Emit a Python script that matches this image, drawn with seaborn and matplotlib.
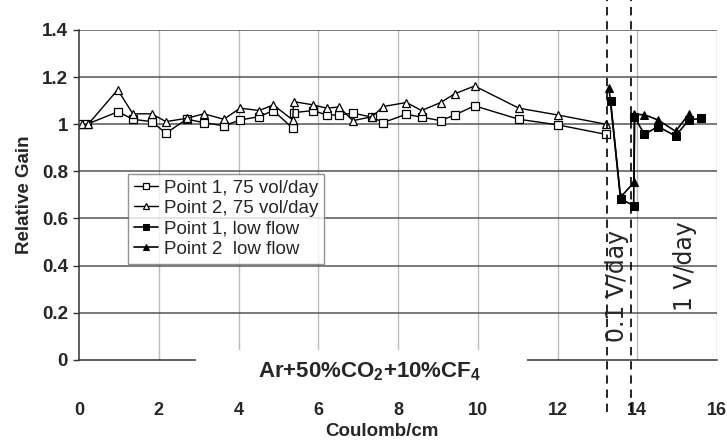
import seaborn as sns
from matplotlib import pyplot as plt
from matplotlib.patches import Rectangle

# Point 1 / Point 2 at 75 vol/day (open markers)
p1_flow_x = [0.0, 0.2, 0.98, 1.35, 1.82, 2.18, 2.70, 3.13, 3.63, 4.04, 4.52, 4.87, 5.36, 5.38,
             5.87, 6.21, 6.52, 6.87, 7.35, 7.63, 8.20, 8.59, 9.07, 9.42, 9.92, 11.03, 12.01, 13.21]
p1_flow_y = [1.0, 1.0, 1.053, 1.021, 1.011, 0.962, 1.021, 1.007, 0.993, 1.018, 1.032, 1.058, 0.983, 1.049,
             1.058, 1.039, 1.039, 1.047, 1.030, 1.007, 1.042, 1.030, 1.015, 1.039, 1.078, 1.021, 0.997, 0.957]
p2_flow_x = [0.07, 0.23, 0.97, 1.35, 1.82, 2.18, 2.70, 3.13, 3.63, 4.04, 4.52, 4.87, 5.36, 5.38,
             5.87, 6.21, 6.52, 6.87, 7.35, 7.63, 8.21, 8.59, 9.07, 9.42, 9.92, 11.03, 12.01, 13.21]
p2_flow_y = [1.0, 1.0, 1.146, 1.044, 1.044, 1.011, 1.025, 1.044, 1.021, 1.068, 1.058, 1.082, 1.018, 1.096,
             1.082, 1.068, 1.073, 1.015, 1.032, 1.075, 1.092, 1.058, 1.092, 1.129, 1.162, 1.068, 1.039, 1.0]

# low flow (filled markers)
p1_low_x = [13.33, 13.58, 13.91, 13.93, 14.18, 14.52, 14.96, 15.29, 15.60]
p1_low_y = [1.099, 0.683, 0.655, 1.03, 0.957, 0.99, 0.95, 1.018, 1.025]
p2_low_x = [13.29, 13.58, 13.92, 13.93, 14.18, 14.52, 14.96, 15.29]
p2_low_y = [1.155, 0.69, 0.754, 1.042, 1.04, 1.018, 0.97, 1.042]

labels = ["Point 1, 75 vol/day", "Point 2, 75 vol/day", "Point 1, low flow", "Point 2  low flow"]
x_ticks = [0, 2, 4, 6, 8, 10, 12, 14, 16]
y_ticks = [0, 0.2, 0.4, 0.6, 0.8, 1.0, 1.2, 1.4]
y_tick_labels = ["0", "0.2", "0.4", "0.6", "0.8", "1", "1.2", "1.4"]
flow_change_x = [13.24, 13.83]

sns.set_theme(style="white")
plt.rcParams['font.family'] = ['Liberation Sans', 'DejaVu Sans']
plt.rcParams['mathtext.fontset'] = 'custom'
plt.rcParams['mathtext.bf'] = 'Liberation Sans:bold'

fig = plt.figure(figsize=(7.27, 4.40), dpi=100)
ax = fig.add_axes([0.1087, 0.182, 0.8776, 0.75])

ms = 5.8
sns.lineplot(x=p1_flow_x, y=p1_flow_y, ax=ax, sort=False, estimator=None, color="black", lw=1,
             marker="s", markersize=ms, markerfacecolor="white", markeredgecolor="black",
             markeredgewidth=0.9, label=labels[0])
sns.lineplot(x=p2_flow_x, y=p2_flow_y, ax=ax, sort=False, estimator=None, color="black", lw=1,
             marker="^", markersize=ms, markerfacecolor="white", markeredgecolor="black",
             markeredgewidth=0.9, label=labels[1])
sns.lineplot(x=p1_low_x, y=p1_low_y, ax=ax, sort=False, estimator=None, color="black", lw=1.2,
             marker="s", markersize=ms, markerfacecolor="black", markeredgecolor="black",
             label=labels[2])
sns.lineplot(x=p2_low_x, y=p2_low_y, ax=ax, sort=False, estimator=None, color="black", lw=1.2,
             marker="^", markersize=ms, markerfacecolor="black", markeredgecolor="black",
             label=labels[3])

ax.set_xlim(0, 16)
ax.set_ylim(0, 1.4)
ax.set_xticks(x_ticks)
ax.set_yticks(y_ticks)
ax.set_yticklabels(y_tick_labels)

# grid: dark horizontal, light vertical
for yv in y_ticks[1:]:
    ax.axhline(yv, color="#555555", lw=1.1, zorder=0.5)
for xv in x_ticks[1:]:
    ax.axvline(xv, color="#bbbbbb", lw=1, zorder=0.4)

for s in ["left", "bottom"]:
    ax.spines[s].set_color("#333333")
    ax.spines[s].set_linewidth(1.1)
ax.spines["top"].set_visible(False)
ax.spines["right"].set_visible(False)

ax.tick_params(axis="x", direction="inout", length=8, width=1, color="#333333", pad=26,
               labelsize=13)
ax.tick_params(axis="y", direction="out", length=4, width=1, color="#333333", pad=4,
               labelsize=13.5, left=True)
for t in ax.get_xticklabels() + ax.get_yticklabels():
    t.set_fontweight("bold")

ax.set_xlabel("Coulomb/cm", fontsize=13.5, fontweight="bold", labelpad=3)
ax.xaxis.label.set_x(0.475)
ax.set_ylabel("Relative Gain", fontsize=13.5, fontweight="bold", labelpad=6)

# dashed lines marking flow changes
for xv in flow_change_x:
    ax.axvline(xv, ymin=-0.158, ymax=1.091, color="black", lw=1.2, ls=(0, (5, 3.5)),
               clip_on=False, zorder=3)

ax.text(13.48, 0.314, "0.1 V/day", rotation=90, fontsize=17, family="DejaVu Sans",
        ha="center", va="center", zorder=5)
ax.text(15.19, 0.40, "1 V/day", rotation=90, fontsize=17, family="DejaVu Sans",
        ha="center", va="center", zorder=5)

# gas mixture label breaking the x axis
ax.add_patch(Rectangle((0.183, -0.07), 0.519, 0.10, transform=ax.transAxes,
                       facecolor="white", edgecolor="none", clip_on=False, zorder=3))
ax.text(0.456, -0.035, "Ar+50%CO$_\\mathbf{2}$+10%CF$_\\mathbf{4}$", transform=ax.transAxes,
        fontsize=16, fontweight="bold", ha="center", va="center", zorder=4)

leg = ax.legend(loc="upper left", bbox_to_anchor=(0.077, 0.564), fontsize=13.5, frameon=True,
                fancybox=False, edgecolor="#777777", handlelength=1.3, handletextpad=0.3,
                labelspacing=0.18, borderpad=0.3, borderaxespad=0, markerscale=0.8)
leg.get_frame().set_linewidth(1)

plt.savefig("out.png", dpi=100)
